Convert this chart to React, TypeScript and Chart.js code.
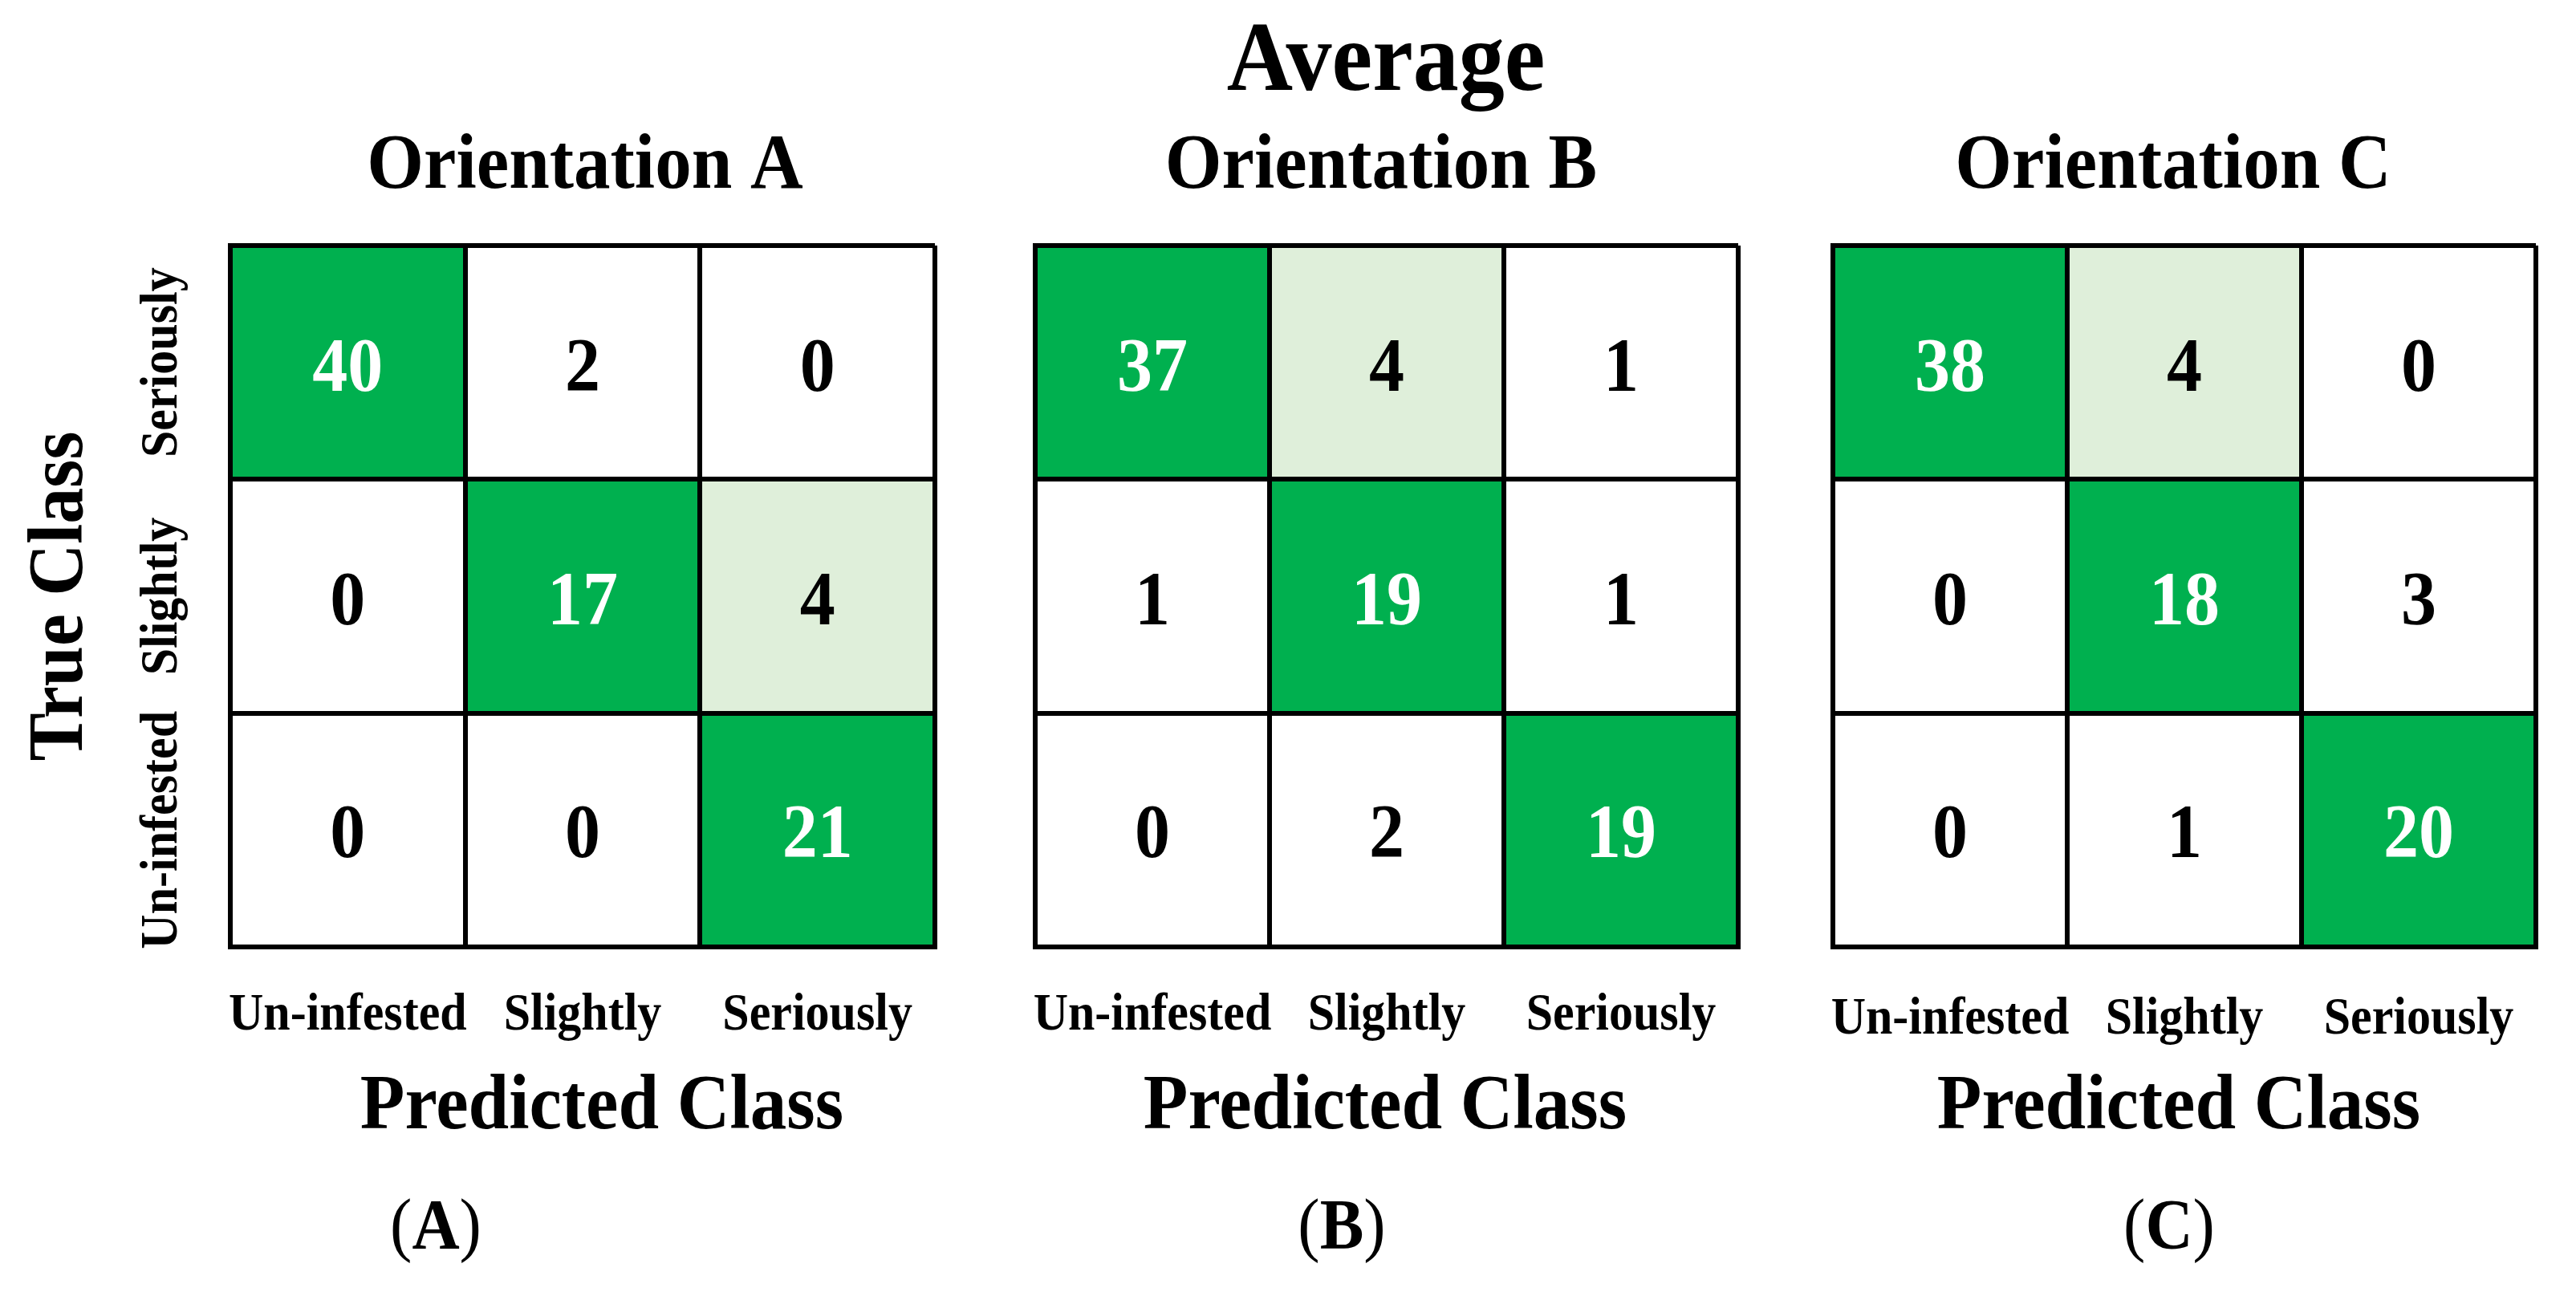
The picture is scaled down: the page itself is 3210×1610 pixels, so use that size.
import React, { useEffect, useRef } from 'react';
import { Chart, registerables } from 'chart.js';

Chart.register(...registerables);

// ---------- data ----------
const predictedClasses = ['Un-infested', 'Slightly', 'Seriously'];
const trueClasses = ['Seriously', 'Slightly', 'Un-infested'];

// rows follow trueClasses (top to bottom), columns follow predictedClasses
const orientationA = [
  [40, 2, 0],
  [0, 17, 4],
  [0, 0, 21],
];
const orientationB = [
  [37, 4, 1],
  [1, 19, 1],
  [0, 2, 19],
];
const orientationC = [
  [38, 4, 0],
  [0, 18, 3],
  [0, 1, 20],
];

const panelTitles = ['Orientation A', 'Orientation B', 'Orientation C'];
const panelTags = ['A', 'B', 'C'];
const superTitle = 'Average';
const xAxisTitle = 'Predicted Class';
const yAxisTitle = 'True Class';

const MATRICES = [orientationA, orientationB, orientationC];

// ---------- styling / layout ----------
const W = 3210;
const H = 1610;
const TOP = 306;
const BOTTOM = 1180;
const DARK = '#00B04F';
const LIGHT = '#DFEFDA';
const WHITE = '#FFFFFF';
const FONT = '"Liberation Serif", "Times New Roman", serif';
const STRETCH = 1.08;

const LAYOUT = [
  { left: 287, right: 1165, titleX: 729, predX: 750, tagX: 543, xLabelY: 1283, yLabels: true, sup: false },
  { left: 1290, right: 2166, titleX: 1721, predX: 1726, tagX: 1672, xLabelY: 1283, yLabels: false, sup: true },
  { left: 2284, right: 3160, titleX: 2708, predX: 2715, tagX: 2703, xLabelY: 1288, yLabels: false, sup: false },
];

function cellColor(r: number, c: number, v: number) {
  if (r === c) return DARK;
  if (v >= 4) return LIGHT;
  return WHITE;
}

function drawText(
  ctx: CanvasRenderingContext2D,
  s: string,
  x: number,
  y: number,
  font: string,
  color = '#000',
  rot = 0,
  align: CanvasTextAlign = 'center'
) {
  ctx.save();
  ctx.translate(x, y);
  if (rot) ctx.rotate(rot);
  ctx.scale(1, STRETCH);
  ctx.font = font;
  ctx.fillStyle = color;
  ctx.textAlign = align;
  ctx.textBaseline = 'alphabetic';
  ctx.fillText(s, 0, 0);
  ctx.restore();
}

function makeTextPlugin(idx: number) {
  const L = LAYOUT[idx];
  const values = MATRICES[idx];
  return {
    id: 'cmText' + idx,
    afterDraw(chart: any) {
      const ctx: CanvasRenderingContext2D = chart.ctx;
      const xs = chart.scales.x;
      const ys = chart.scales.y;
      ctx.save();
      // cell values
      chart.data.datasets.forEach((ds: any, r: number) => {
        const meta = chart.getDatasetMeta(r);
        meta.data.forEach((el: any, c: number) => {
          const p = el.getCenterPoint();
          const v = values[r][c];
          const col = cellColor(r, c, v) === DARK ? '#FFFFFF' : '#000000';
          drawText(ctx, String(v), p.x, p.y + 35, `bold 88px ${FONT}`, col);
        });
      });
      // x tick labels
      predictedClasses.forEach((lab, i) => {
        drawText(ctx, lab, xs.getPixelForValue(i), L.xLabelY, `bold 60px ${FONT}`);
      });
      // y tick labels + y title
      if (L.yLabels) {
        trueClasses.forEach((lab, r) => {
          const yc = ys.getPixelForValue(trueClasses.length - r - 0.5);
          drawText(ctx, lab, 220, yc, `bold 60px ${FONT}`, '#000', -Math.PI / 2);
        });
        const ymid = (ys.getPixelForValue(0) + ys.getPixelForValue(3)) / 2;
        drawText(ctx, yAxisTitle, 102, ymid, `bold 90px ${FONT}`, '#000', -Math.PI / 2);
      }
      // titles
      drawText(ctx, panelTitles[idx], L.titleX, 234, `bold 91px ${FONT}`);
      if (L.sup) drawText(ctx, superTitle, 1727, 112, `bold 114px ${FONT}`);
      drawText(ctx, xAxisTitle, L.predX, 1406, `bold 91px ${FONT}`);
      // (A) tag: regular parens, bold letter
      const fr = `82px ${FONT}`;
      const fb = `bold 82px ${FONT}`;
      ctx.font = fr;
      const wp1 = ctx.measureText('(').width;
      const wp2 = ctx.measureText(')').width;
      ctx.font = fb;
      const wl = ctx.measureText(panelTags[idx]).width;
      const total = wp1 + wl + wp2;
      const x0 = L.tagX - total / 2;
      drawText(ctx, '(', x0, 1555, fr, '#000', 0, 'left');
      drawText(ctx, panelTags[idx], x0 + wp1, 1555, fb, '#000', 0, 'left');
      drawText(ctx, ')', x0 + wp1 + wl, 1555, fr, '#000', 0, 'left');
      ctx.restore();
    },
  };
}

function Panel({ idx }: { idx: number }) {
  const ref = useRef<HTMLCanvasElement | null>(null);
  useEffect(() => {
    if (!ref.current) return;
    const L = LAYOUT[idx];
    const values = MATRICES[idx];
    const n = trueClasses.length;
    const datasets = values.map((row, r) => ({
      label: trueClasses[r],
      data: row.map(() => [n - 1 - r, n - r]),
      backgroundColor: row.map((v, c) => cellColor(r, c, v)),
      borderWidth: 0,
      barPercentage: 1,
      categoryPercentage: 1,
      grouped: false,
    }));
    const chart = new Chart(ref.current, {
      type: 'bar',
      data: { labels: predictedClasses, datasets: datasets as any },
      options: {
        responsive: false,
        animation: false,
        devicePixelRatio: 1,
        layout: { padding: { left: L.left, right: W - L.right, top: TOP, bottom: H - BOTTOM } },
        plugins: {
          legend: { display: false },
          tooltip: { enabled: false },
          title: { display: false },
        },
        scales: {
          x: {
            type: 'category',
            offset: true,
            grid: { offset: true, color: '#000', lineWidth: 6, drawTicks: false, z: 1 },
            border: { display: true, color: '#000', width: 6, z: 1 },
            ticks: { display: false },
          },
          y: {
            type: 'linear',
            min: 0,
            max: 3,
            grid: { color: '#000', lineWidth: 6, drawTicks: false, z: 1 },
            border: { display: true, color: '#000', width: 6, z: 1 },
            ticks: { display: false, stepSize: 1 },
          },
        },
      } as any,
      plugins: [makeTextPlugin(idx)],
    });
    return () => chart.destroy();
  }, [idx]);
  return (
    <canvas
      ref={ref}
      width={W}
      height={H}
      style={{ position: 'absolute', left: 0, top: 0 }}
    />
  );
}

export default function App() {
  return (
    <div style={{ position: 'absolute', left: 0, top: 0, width: W, height: H, background: '#fff', overflow: 'hidden' }}>
      {MATRICES.map((_, i) => (
        <Panel key={i} idx={i} />
      ))}
    </div>
  );
}
